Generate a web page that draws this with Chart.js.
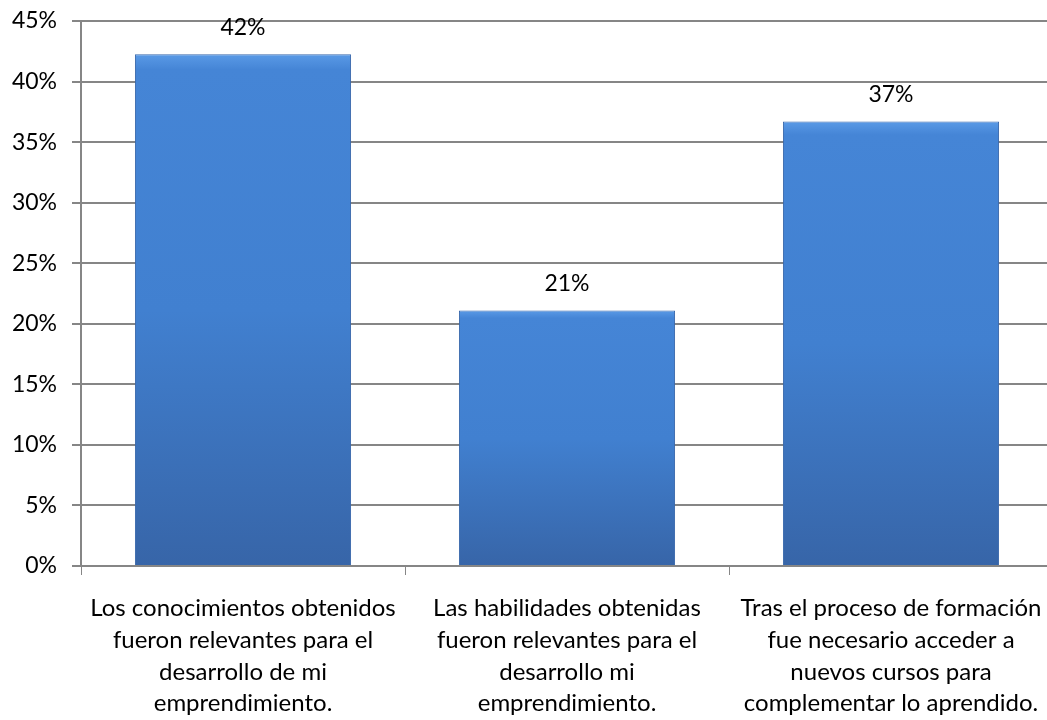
<!DOCTYPE html>
<html>
<head>
<meta charset="utf-8">
<script src="https://cdn.jsdelivr.net/npm/chart.js@4.4.1/dist/chart.umd.min.js"></script>
<style>
  html, body { margin: 0; padding: 0; background: #fff; overflow: hidden; }
  #wrap { width: 1053px; height: 720px; position: relative; }
</style>
</head>
<body>
<div id="wrap"><canvas id="myChart"></canvas></div>
<script>
// Chart data
let labels = [
    ['Los conocimientos obtenidos', 'fueron relevantes para el', 'desarrollo de mi', 'emprendimiento.'],
    ['Las habilidades obtenidas', 'fueron relevantes para el', 'desarrollo mi', 'emprendimiento.'],
    ['Tras el proceso de formación', 'fue necesario acceder a', 'nuevos cursos para', 'complementar lo aprendido.']
];
let values = [42.25, 21.1, 36.7];
let valueLabels = ['42%', '21%', '37%'];
let yTicks = [0, 5, 10, 15, 20, 25, 30, 35, 40, 45];

const FONT = 'Lato, "Open Sans", sans-serif';

// Bar fill: vertical gradient per bar
function barFill(context) {
    let chart = context.chart;
    if (!chart.chartArea) return '#4383D4';
    let y = chart.scales.y;
    let top = y.getPixelForValue(values[context.dataIndex]);
    let bottom = y.getPixelForValue(0);
    let g = chart.ctx.createLinearGradient(0, top, 0, bottom);
    g.addColorStop(0, '#5A9AE6');
    g.addColorStop(0.03, '#4585D6');
    g.addColorStop(0.5, '#4180D0');
    g.addColorStop(1, '#3765A8');
    return g;
}

// Draw value labels above bars
const valueLabelPlugin = {
    id: 'valueLabels',
    afterDatasetsDraw(chart) {
        let ctx = chart.ctx;
        let meta = chart.getDatasetMeta(0);
        ctx.save();
        ctx.font = '23px ' + FONT;
        ctx.fillStyle = '#000';
        ctx.textAlign = 'center';
        ctx.textBaseline = 'bottom';
        meta.data.forEach((bar, i) => {
            ctx.fillText(valueLabels[i], bar.x, bar.y - 15);
        });
        ctx.restore();
    }
};

let ctx = document.getElementById('myChart').getContext('2d');
let myChart = new Chart(ctx, {
    type: 'bar',
    data: {
        labels: labels,
        datasets: [{
            data: values,
            backgroundColor: barFill,
            borderColor: '#3A69AC',
            borderWidth: 1,
            barPercentage: 0.667,
            categoryPercentage: 1.0
        }]
    },
    plugins: [valueLabelPlugin],
    options: {
        responsive: true,
        maintainAspectRatio: false,
        animation: false,
        layout: { padding: { top: 21, right: 0, bottom: 0, left: 0 } },
        plugins: {
            legend: { display: false },
            tooltip: { enabled: false }
        },
        scales: {
            x: {
                offset: true,
                grid: {
                    offset: true,
                    drawOnChartArea: false,
                    drawTicks: true,
                    tickLength: 9,
                    color: '#868686'
                },
                border: { color: '#868686', width: 2 },
                ticks: {
                    color: '#000',
                    padding: 17,
                    maxRotation: 0,
                    autoSkip: false,
                    font: { family: FONT, size: 24, lineHeight: 1.33 }
                },
                afterFit(scale) {
                    scale.height = 154;
                    scale.paddingLeft = 0;
                    scale.paddingRight = 0;
                }
            },
            y: {
                min: 0,
                max: 45,
                afterBuildTicks(scale) {
                    scale.ticks = yTicks.map(v => ({ value: v }));
                },
                grid: {
                    color: '#868686',
                    lineWidth: 2,
                    tickLength: 9
                },
                border: { color: '#868686', width: 2 },
                ticks: {
                    color: '#000',
                    padding: 15,
                    font: { family: FONT, size: 23 },
                    callback: v => v + '%'
                },
                afterFit(scale) {
                    scale.width = 81;
                    scale.paddingTop = 0;
                    scale.paddingBottom = 0;
                }
            }
        }
    }
});
</script>
</body>
</html>
